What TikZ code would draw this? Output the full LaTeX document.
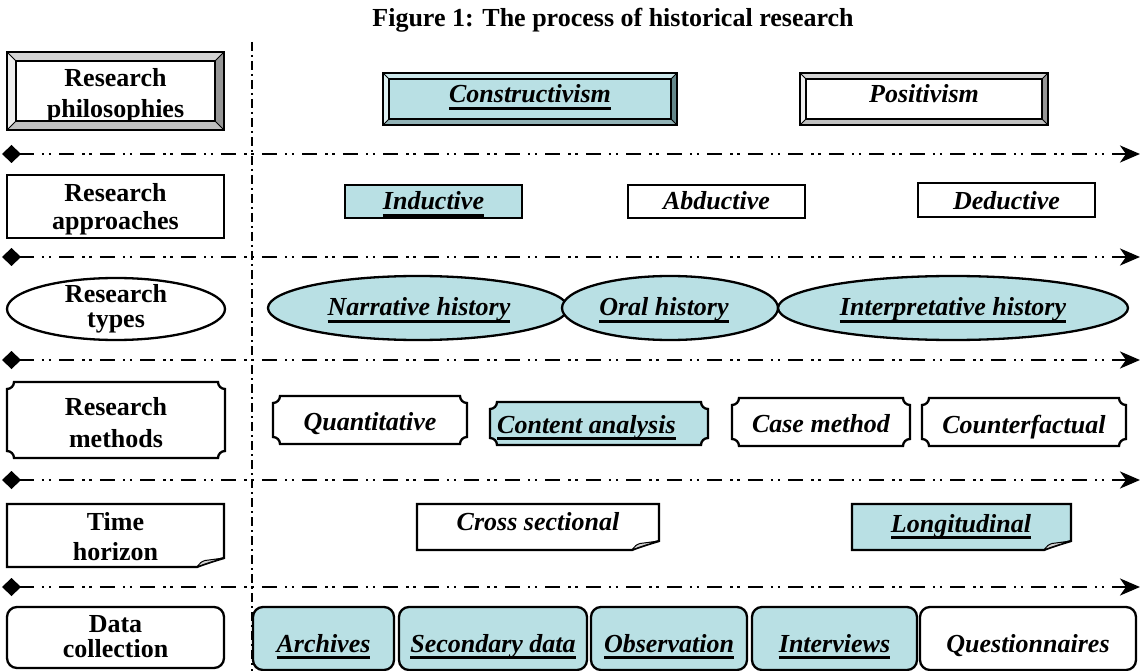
\documentclass[tikz,border=0pt]{standalone}
\usepackage{fontspec}
\setmainfont{Liberation Serif}
\usetikzlibrary{arrows.meta,shapes.geometric}
\definecolor{lblue}{RGB}{185,224,228}
\definecolor{wface}{RGB}{255,255,255}
\definecolor{wtop}{RGB}{212,212,212}
\definecolor{wleft}{RGB}{238,238,238}
\definecolor{wright}{RGB}{150,150,150}
\definecolor{wbot}{RGB}{192,192,192}
\definecolor{bface}{RGB}{185,224,228}
\definecolor{btop}{RGB}{205,232,235}
\definecolor{bleft}{RGB}{222,241,243}
\definecolor{bright}{RGB}{100,135,138}
\definecolor{bbot}{RGB}{145,178,182}
\newcommand\ulx[1]{\setbox0\hbox{#1}\rlap{\rule[-7pt]{\wd0}{2.6pt}}\box0}
% bevel box: #1 name, #2 x1, #3 y1, #4 x2, #5 y2, #6 palette, #7 bevel width
\newcommand\bevelbox[7]{%
 \fill[#6top] (#2,#3) -- (#4,#3) -- ({#4-#7},{#3+#7}) -- ({#2+#7},{#3+#7}) -- cycle;
 \fill[#6left] (#2,#3) -- ({#2+#7},{#3+#7}) -- ({#2+#7},{#5-#7}) -- (#2,#5) -- cycle;
 \fill[#6right] (#4,#3) -- ({#4-#7},{#3+#7}) -- ({#4-#7},{#5-#7}) -- (#4,#5) -- cycle;
 \fill[#6bot] (#2,#5) -- ({#2+#7},{#5-#7}) -- ({#4-#7},{#5-#7}) -- (#4,#5) -- cycle;
 \fill[#6face] ({#2+#7},{#3+#7}) rectangle ({#4-#7},{#5-#7});
 \draw[line width=0.8pt] (#2,#3) -- ({#2+#7},{#3+#7}) (#4,#3) -- ({#4-#7},{#3+#7})
   (#2,#5) -- ({#2+#7},{#5-#7}) (#4,#5) -- ({#4-#7},{#5-#7});
 \draw[line width=1.6pt] ({#2+#7},{#3+#7}) rectangle ({#4-#7},{#5-#7});
 \draw[line width=2.4pt] (#2,#3) rectangle (#4,#5);
 \path (#2,#3) node[inner sep=0,anchor=north west,minimum width={(#4-#2)*1pt},minimum height={(#5-#3)*1pt}] (#1) {};
}
% plaque: #1 name, #2 x1, #3 y1, #4 x2, #5 y2, #6 fill
\newcommand\plaque[6]{%
 \draw[shapeline,fill=#6] ({#4-7},#3) arc[start angle=180,end angle=90,radius=7]
   -- (#4,{#5-7}) arc[start angle=270,end angle=180,radius=7]
   -- ({#2+7},#5) arc[start angle=360,end angle=270,radius=7]
   -- (#2,{#3+7}) arc[start angle=90,end angle=0,radius=7] -- cycle;
 \path (#2,#3) node[inner sep=0,anchor=north west,minimum width={(#4-#2)*1pt},minimum height={(#5-#3)*1pt}] (#1) {};
}
% folded corner: #1 name, #2 x1, #3 y1, #4 x2, #5 y2, #6 fill
\newcommand\folded[6]{%
 \draw[shapeline,fill=#6] (#2,#3) -- (#4,#3) -- (#4,{#5-9})
   .. controls ({#4-10},{#5-6}) and ({#4-20},{#5-3}) .. ({#4-27},#5) -- (#2,#5) -- cycle;
 \draw[line width=1pt,fill=gray!35] ({#4-27},#5) .. controls ({#4-23},{#5-5}) .. ({#4-19},{#5-6.5})
   -- (#4,{#5-9}) .. controls ({#4-10},{#5-6}) and ({#4-20},{#5-3}) .. ({#4-27},#5);
 \path (#2,#3) node[inner sep=0,anchor=north west,minimum width={(#4-#2)*1pt},minimum height={(#5-#3)*1pt}] (#1) {};
}
\tikzset{
 shapeline/.style={line width=2.3pt,draw=black},
 lab/.style={font=\fontsize{26}{30}\selectfont\bfseries,inner sep=0,anchor=base},
 itm/.style={font=\fontsize{26}{30}\selectfont\bfseries\itshape,inner sep=0,anchor=base},
 rbox/.style={shapeline,rectangle,inner sep=0},
 ebox/.style={shapeline,ellipse,inner sep=0},
 rrbox/.style={shapeline,rectangle,rounded corners=10pt,inner sep=0},
 sepline/.style={line width=2.8pt,dash pattern=on 15pt off 8pt on 2.5pt off 4.5pt on 2.5pt off 8pt,
   {Diamond[length=19pt,width=18pt]}-{Stealth[length=20pt,width=17pt,inset=6pt]}},
 vline/.style={line width=2pt,dash pattern=on 9pt off 4pt on 2pt off 4pt}
}
\begin{document}
\begin{tikzpicture}[x=1pt,y=-1pt]
\useasboundingbox[fill=white] (0,0) rectangle (1141,671);
% title
\node[lab] (title) at (613,27) {Figure 1: The process of historical research};
% vertical divider
\coordinate (vtop) at (252,42);
\coordinate (vbot) at (252,671);
\draw[vline] (vtop) -- (vbot);
% separators
\foreach \yy/\nn in {154/a,257/b,360/c,480/d,587/e}{
  \coordinate (s\nn l) at (2,\yy);
  \coordinate (s\nn r) at (1140,\yy);
  \draw[sepline] (s\nn l) -- (s\nn r);
}
% ---- left labels
\bevelbox{phil}{7}{52}{224}{130}{w}{9}
\begin{scope}
\clip (16,61) rectangle (215,121);
\node[lab] (phil-1) at (115.5,87) {Research};
\node[lab] (phil-2) at (115.5,118) {philosophies};
\end{scope}
\node[rbox,minimum width=217pt,minimum height=63pt] (appr) at (115.5,206.5) {};
\node[lab] (appr-1) at (115.5,202) {Research};
\node[lab] (appr-2) at (115.5,230) {approaches};
\node[ebox,minimum width=218pt,minimum height=62pt] (types) at (116,309) {};
\node[lab] (types-1) at (116,302) {Research};
\node[lab] (types-2) at (116,327) {types};
\plaque{meth}{7}{382}{225}{458}{white}
\node[lab] (meth-1) at (116,415) {Research};
\node[lab] (meth-2) at (116,447) {methods};
\folded{time}{7}{504}{224}{567}{white}
\begin{scope}
\clip (9,506) rectangle (222,560);
\node[lab] (time-1) at (115.5,530) {Time};
\node[lab] (time-2) at (115.5,560) {horizon};
\end{scope}
\node[rrbox,minimum width=217pt,minimum height=61pt] (data) at (115.5,637.5) {};
\node[lab] (data-1) at (115.5,632) {Data};
\node[lab] (data-2) at (115.5,657) {collection};
% ---- row 1
\bevelbox{cons}{383}{73}{677}{125}{b}{6}
\node[itm] (cons-t) at (530,103) {\ulx{Constructivism}};
\bevelbox{posi}{800}{73}{1048}{125}{w}{6}
\node[itm] (posi-t) at (924,103) {Positivism};
% ---- row 2
\node[rbox,fill=lblue,minimum width=177pt,minimum height=33pt] (ind) at (433.5,201.5) {};
\node[itm] (ind-t) at (433.5,210) {\ulx{Inductive}};
\node[rbox,minimum width=177pt,minimum height=33pt] (abd) at (716.5,201.5) {};
\node[itm] (abd-t) at (716.5,210) {Abductive};
\node[rbox,minimum width=177pt,minimum height=34pt] (ded) at (1006.5,200) {};
\node[itm] (ded-t) at (1006.5,210) {Deductive};
% ---- row 3
\node[ebox,fill=lblue,minimum width=300pt,minimum height=64pt] (narr) at (418,308) {};
\node[ebox,fill=lblue,minimum width=216pt,minimum height=64pt] (oral) at (670,308) {};
\node[ebox,fill=lblue,minimum width=350pt,minimum height=64pt] (interp) at (953,308) {};
\node[itm] (narr-t) at (419,316) {\ulx{Narrative history}};
\node[itm] (oral-t) at (664,316) {\ulx{Oral history}};
\node[itm] (interp-t) at (953,316) {\ulx{Interpretative history}};
% ---- row 4
\plaque{quan}{273}{396}{467}{444}{white}
\node[itm] (quan-t) at (370,430) {Quantitative};
\plaque{cont}{490}{402}{708}{445}{lblue}
\node[itm,anchor=base west] (cont-t) at (497,433) {\ulx{Content analysis}};
\plaque{case}{732}{398}{910}{446}{white}
\node[itm] (case-t) at (821,432) {Case method};
\plaque{coun}{922}{398}{1126}{446}{white}
\node[itm] (coun-t) at (1024,433) {Counterfactual};
% ---- row 5
\folded{cross}{417}{504}{659}{550}{white}
\node[itm] (cross-t) at (538,530) {Cross sectional};
\folded{long}{852}{504}{1071}{550}{lblue}
\node[itm] (long-t) at (961,532) {\ulx{Longitudinal}};
% ---- row 6
\node[rrbox,fill=lblue,minimum width=141pt,minimum height=63pt] (arch) at (323.5,638.5) {};
\node[itm] (arch-t) at (323.5,652) {\ulx{Archives}};
\node[rrbox,fill=lblue,minimum width=188pt,minimum height=63pt] (sec) at (493,638.5) {};
\node[itm] (sec-t) at (493,652) {\ulx{Secondary data}};
\node[rrbox,fill=lblue,minimum width=156pt,minimum height=63pt] (obs) at (669,638.5) {};
\node[itm] (obs-t) at (669,652) {\ulx{Observation}};
\node[rrbox,fill=lblue,minimum width=165pt,minimum height=63pt] (intv) at (834.5,638.5) {};
\node[itm] (intv-t) at (834.5,652) {\ulx{Interviews}};
\node[rrbox,minimum width=216pt,minimum height=63pt] (ques) at (1028,638.5) {};
\node[itm] (ques-t) at (1028,652) {Questionnaires};
\end{tikzpicture}
\end{document}
